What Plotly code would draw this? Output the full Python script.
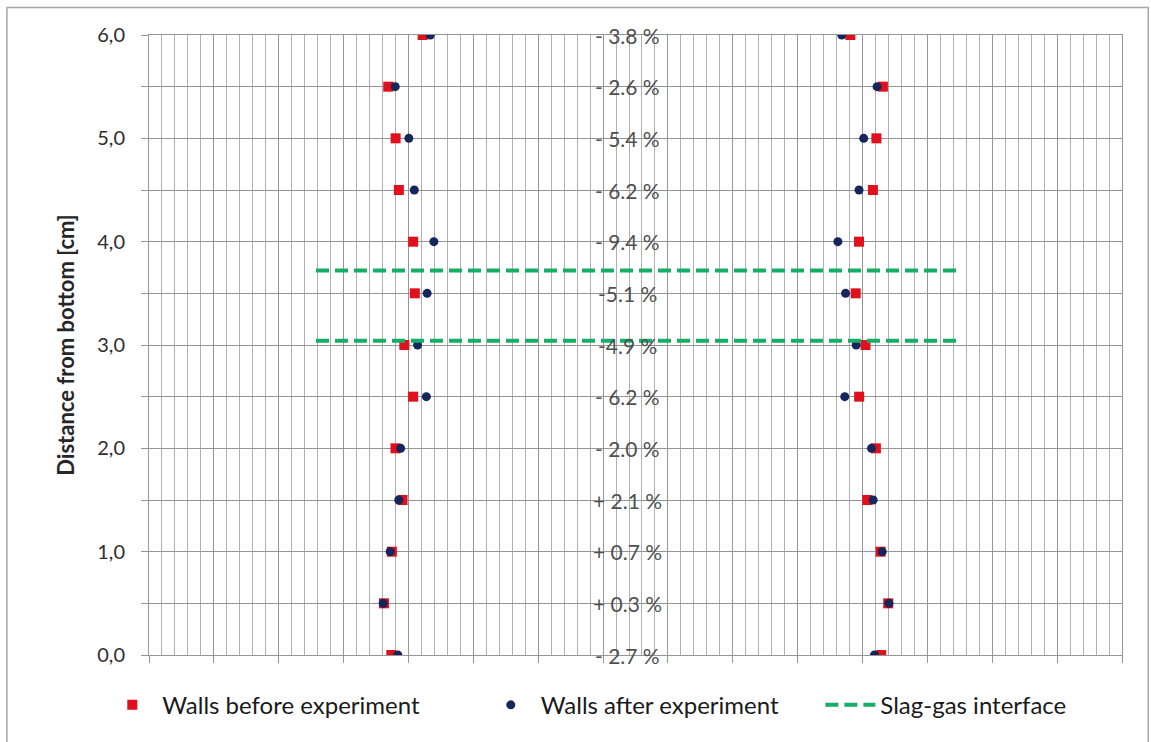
import plotly.graph_objects as go

# Heights above the crucible bottom [cm]
heights = [0.0, 0.5, 1.0, 1.5, 2.0, 2.5, 3.0, 3.5, 4.0, 4.5, 5.0, 5.5, 6.0]

# Wall positions across the width [cm], before the experiment
left_before = [1.868, 1.811, 1.872, 1.954, 1.900, 2.036, 1.968, 2.049, 2.036, 1.926, 1.901, 1.844, 2.109]
right_before = [5.644, 5.698, 5.639, 5.536, 5.603, 5.474, 5.523, 5.447, 5.473, 5.580, 5.607, 5.657, 5.406]

# Wall positions after the experiment
left_after = [1.918, 1.805, 1.859, 1.925, 1.940, 2.138, 2.070, 2.144, 2.196, 2.045, 2.003, 1.898, 2.168]
right_after = [5.592, 5.704, 5.652, 5.582, 5.569, 5.363, 5.451, 5.369, 5.310, 5.473, 5.509, 5.612, 5.340]

# Change of inner width at each height
width_change = ["- 2.7 %", "+ 0.3 %", "+ 0.7 %", "+ 2.1 %", "- 2.0 %", "- 6.2 %", "-4.9 %",
                "-5.1 %", "- 9.4 %", "- 6.2 %", "- 5.4 %", "- 2.6 %", "- 3.8 %"]

# Slag-gas interface levels and their horizontal extent [cm]
interface_levels = [3.04, 3.72]
interface_span = [1.287, 6.26]

RED = "#E0101C"
NAVY = "#14265C"
GREEN = "#16AD66"
GRID = "#959595"
GRID_MINOR = "#B0B0B0"
FONT = "Lato"

fig = go.Figure()

# Walls before: both sides in one trace, separated by a gap
fig.add_trace(go.Scatter(
    x=left_before + [None] + right_before,
    y=heights + [None] + heights,
    mode="markers",
    name="Walls before experiment",
    legend="legend",
    marker=dict(symbol="square", size=10, color=RED),
))

fig.add_trace(go.Scatter(
    x=left_after + [None] + right_after,
    y=heights + [None] + heights,
    mode="markers",
    name="Walls after experiment",
    legend="legend2",
    marker=dict(symbol="circle", size=9, color=NAVY),
))

# Interface lines
ix, iy = [], []
for lvl in interface_levels:
    ix += interface_span + [None]
    iy += [lvl, lvl, None]
fig.add_trace(go.Scatter(
    x=ix, y=iy,
    mode="lines",
    name="Slag-gas interface",
    legend="legend3",
    line=dict(color=GREEN, width=4, dash="13px,6px"),
))

# Percentage labels in the middle of the vessel
for h, txt in zip(heights, width_change):
    fig.add_annotation(
        x=3.69, y=h, xref="x", yref="y",
        text=txt, showarrow=False,
        xanchor="center", yanchor="middle",
        font=dict(family=FONT, size=21, color="#505050"),
    )

# Outer chart border
fig.add_shape(
    type="rect", xref="paper", yref="paper",
    x0=-0.146, x1=1.027, y0=-0.2, y1=1.0444,
    line=dict(color="#A8A8A8", width=1.5),
    fillcolor="rgba(0,0,0,0)", layer="below",
)

legend_style = dict(
    orientation="h",
    y=-0.081, yanchor="middle",
    xanchor="left",
    itemwidth=50,
    font=dict(family=FONT, size=24, color="#1A1A1A"),
    bgcolor="rgba(0,0,0,0)",
)

fig.update_layout(
    width=1151, height=742,
    margin=dict(l=149, r=29, t=35, b=87),
    paper_bgcolor="white",
    plot_bgcolor="white",
    separators=",.",
    font=dict(family=FONT, color="#262626"),
    showlegend=True,
    legend=dict(x=-0.048, **legend_style),
    legend2=dict(x=0.341, **legend_style),
    legend3=dict(x=0.69, **legend_style),
    xaxis=dict(
        range=[0, 7.5],
        dtick=0.5, tick0=0,
        showticklabels=False,
        ticks="outside", ticklen=7, tickcolor=GRID,
        showgrid=True, gridcolor=GRID, gridwidth=1,
        minor=dict(dtick=0.1, showgrid=True, gridcolor=GRID_MINOR, gridwidth=1, ticks=""),
        showline=True, linecolor=GRID, linewidth=1, mirror=True,
        zeroline=False,
    ),
    yaxis=dict(
        range=[0, 6],
        dtick=1, tick0=0,
        tickformat=".1f",
        ticks="outside", ticklen=7, tickcolor=GRID,
        tickfont=dict(family=FONT, size=20, color="#2E2E2E"),
        ticklabelstandoff=12,
        showgrid=True, gridcolor=GRID, gridwidth=1,
        minor=dict(dtick=0.5, showgrid=True, gridcolor=GRID, gridwidth=1,
                   ticks="outside", ticklen=7, tickcolor=GRID),
        showline=True, linecolor=GRID, linewidth=1, mirror=True,
        zeroline=False,
        title=dict(text="<b>Distance from bottom [cm]</b>",
                   font=dict(family=FONT, size=22, color="#262626"),
                   standoff=16),
    ),
)

fig.write_html("out.html")
